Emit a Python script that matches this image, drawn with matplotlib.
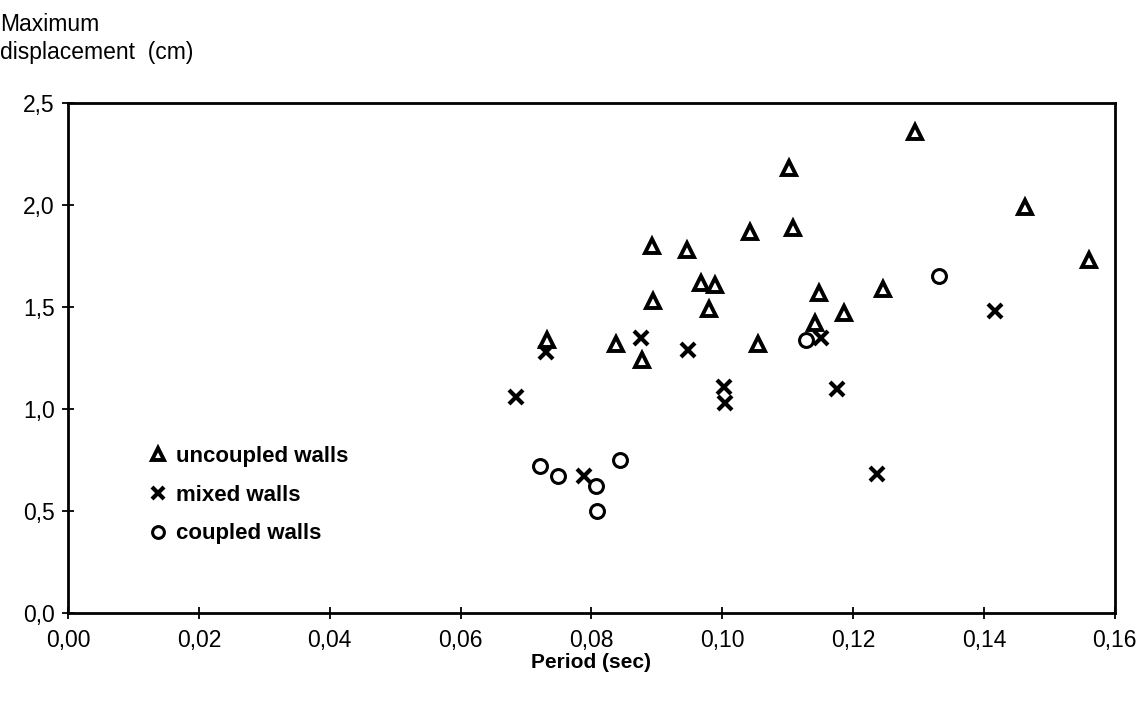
import numpy as np
import matplotlib.pyplot as plt
from matplotlib.ticker import FuncFormatter

plt.rcParams['font.family'] = ['Liberation Sans', 'DejaVu Sans']

# uncoupled walls (triangles)
unc_x = [0.0892, 0.0946, 0.0967, 0.0989, 0.0894, 0.0979, 0.1042, 0.1102, 0.1108, 0.1294,
         0.1463, 0.1561, 0.1246, 0.1148, 0.1186, 0.1141, 0.0732, 0.0838, 0.0878, 0.1054]
unc_y = [1.80, 1.78, 1.62, 1.61, 1.53, 1.49, 1.87, 2.18, 1.89, 2.36,
         1.99, 1.73, 1.59, 1.57, 1.47, 1.42, 1.34, 1.32, 1.24, 1.32]

# mixed walls (crosses)
mix_x = [0.0731, 0.0876, 0.0948, 0.1151, 0.1002, 0.1004, 0.1176, 0.0684, 0.0789, 0.1236, 0.1417]
mix_y = [1.28, 1.35, 1.29, 1.35, 1.11, 1.03, 1.10, 1.06, 0.67, 0.68, 1.48]

# coupled walls (circles)
cou_x = [0.0721, 0.0749, 0.0807, 0.0809, 0.0844, 0.1128, 0.1331]
cou_y = [0.72, 0.67, 0.62, 0.50, 0.75, 1.34, 1.65]

fig = plt.figure(figsize=(11.41, 7.02), dpi=100)
ax = fig.add_axes([0.0596, 0.127, 0.9175, 0.726])

ax.plot(unc_x, unc_y, linestyle='none', marker='^', markersize=10, markeredgewidth=2.8,
        markerfacecolor='white', markeredgecolor='black', label='uncoupled walls')
ax.plot(mix_x, mix_y, linestyle='none', marker='x', markersize=10, markeredgewidth=3,
        color='black', label='mixed walls')
ax.plot(cou_x, cou_y, linestyle='none', marker='o', markersize=10, markeredgewidth=2.2,
        markerfacecolor='white', markeredgecolor='black', label='coupled walls')

ax.set_xlim(0, 0.16)
ax.set_ylim(0, 2.5)
ax.set_xticks(np.arange(0, 0.161, 0.02))
ax.set_yticks(np.arange(0, 2.51, 0.5))
ax.xaxis.set_major_formatter(FuncFormatter(lambda v, p: '{:.2f}'.format(v).replace('.', ',')))
ax.yaxis.set_major_formatter(FuncFormatter(lambda v, p: '{:.1f}'.format(v).replace('.', ',')))
ax.tick_params(direction='inout', length=9, width=1.3, labelsize=16.5, colors='black')
ax.tick_params(axis='x', pad=7)
ax.tick_params(axis='y', pad=5)
for s in ax.spines.values():
    s.set_linewidth(2)

ax.set_xlabel('Period (sec)', fontsize=15, fontweight='bold', labelpad=1)
fig.text(0.0, 0.982, 'Maximum\ndisplacement  (cm)', fontsize=16.5, va='top', ha='left',
         linespacing=1.3)

leg = ax.legend(loc='upper left', bbox_to_anchor=(0.058, 0.367), frameon=False,
                fontsize=16, handlelength=0.8, handletextpad=0.45, labelspacing=0.8,
                markerscale=0.85)
for t in leg.get_texts():
    t.set_fontweight('bold')

plt.savefig('out.png', dpi=100)
